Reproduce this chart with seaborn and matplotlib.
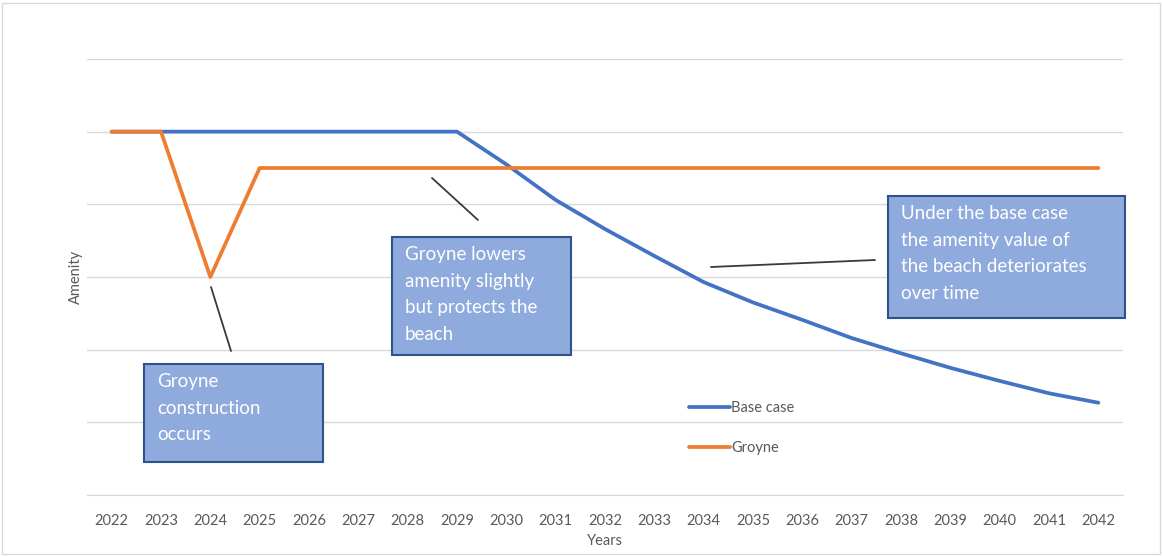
import pandas as pd
import seaborn as sns
import matplotlib.pyplot as plt
from matplotlib.patches import Rectangle
from matplotlib.lines import Line2D

years = list(range(2022, 2043))
base_case = [5.0, 5.0, 5.0, 5.0, 5.0, 5.0, 5.0, 5.0, 4.55, 4.06, 3.66, 3.29,
             2.93, 2.65, 2.41, 2.16, 1.95, 1.75, 1.57, 1.40, 1.27]
groyne = [5.0, 5.0, 3.0] + [4.5] * 18
series_names = ["Base case", "Groyne"]
notes = [
    "Groyne\nconstruction\noccurs",
    "Groyne lowers\namenity slightly\nbut protects the\nbeach",
    "Under the base case\nthe amenity value of\nthe beach deteriorates\nover time",
]

df = pd.DataFrame({
    "Years": years * 2,
    "Amenity": base_case + groyne,
    "Series": [series_names[0]] * len(years) + [series_names[1]] * len(years),
})

sns.set_style("white")
plt.rcParams["font.family"] = ["Lato", "DejaVu Sans"]

W, H = 1163, 556
fig = plt.figure(figsize=(W / 100, H / 100), dpi=100)
ax = fig.add_axes([87 / W, 1 - 495 / H, (1123 - 87) / W, (495 - 59) / H])

sns.lineplot(data=df, x="Years", y="Amenity", hue="Series",
             palette={"Base case": "#4472C4", "Groyne": "#ED7D31"},
             linewidth=2.7, ax=ax, zorder=3)

ax.set_xlim(2021.5, 2042.5)
ax.set_ylim(0, 6)
ax.set_xticks(years)
ax.set_xticklabels([str(y) for y in years], fontsize=10.5, color="#595959")
ax.set_yticks(range(0, 7))
ax.set_yticklabels([])
ax.tick_params(axis="x", length=0, pad=14)
ax.tick_params(axis="y", length=0, pad=0)
ax.grid(axis="y", color="#D9D9D9", linewidth=1)
for s in ["top", "right", "left"]:
    ax.spines[s].set_visible(False)
ax.spines["bottom"].set_color("#D9D9D9")
ax.set_xlabel("Years", fontsize=10.5, color="#595959", labelpad=4)
ax.set_ylabel("Amenity", fontsize=10.5, color="#595959", labelpad=3)

leg = ax.legend(loc="upper left", bbox_to_anchor=(676 / W, 1 - 388 / H),
                bbox_transform=fig.transFigure, frameon=False,
                handlelength=2.8, handletextpad=0.1, labelspacing=1.75,
                fontsize=10.5)
for t in leg.get_texts():
    t.set_color("#595959")

# connector lines (figure pixels)
connectors = [((211, 287), (231, 351)), ((432, 178), (478, 220)), ((711, 267), (875, 260))]
for (x0, y0), (x1, y1) in connectors:
    fig.add_artist(Line2D([x0 / W, x1 / W], [1 - y0 / H, 1 - y1 / H],
                          transform=fig.transFigure, color="#3A3A3A", linewidth=1.3))

# annotation boxes (figure pixels: left, top, right, bottom)
boxes = [(144, 364, 323, 462), (392, 237, 571, 355), (888, 196, 1125, 318)]
for (l, t, r, b), note in zip(boxes, notes):
    fig.add_artist(Rectangle((l / W, 1 - b / H), (r - l) / W, (b - t) / H,
                             transform=fig.transFigure, facecolor="#8FAADC",
                             edgecolor="#2F528F", linewidth=1.5, zorder=5))
    fig.text((l + 13) / W, 1 - (t + 9) / H, note, color="white", fontsize=13.5,
             va="top", ha="left", linespacing=1.68, zorder=6)

fig.add_artist(Rectangle((2 / W, 2 / H), (W - 5) / W, (H - 5) / H,
                         transform=fig.transFigure, facecolor="none",
                         edgecolor="#D9D9D9", linewidth=1))

fig.savefig("out.png", dpi=100, facecolor="white")
